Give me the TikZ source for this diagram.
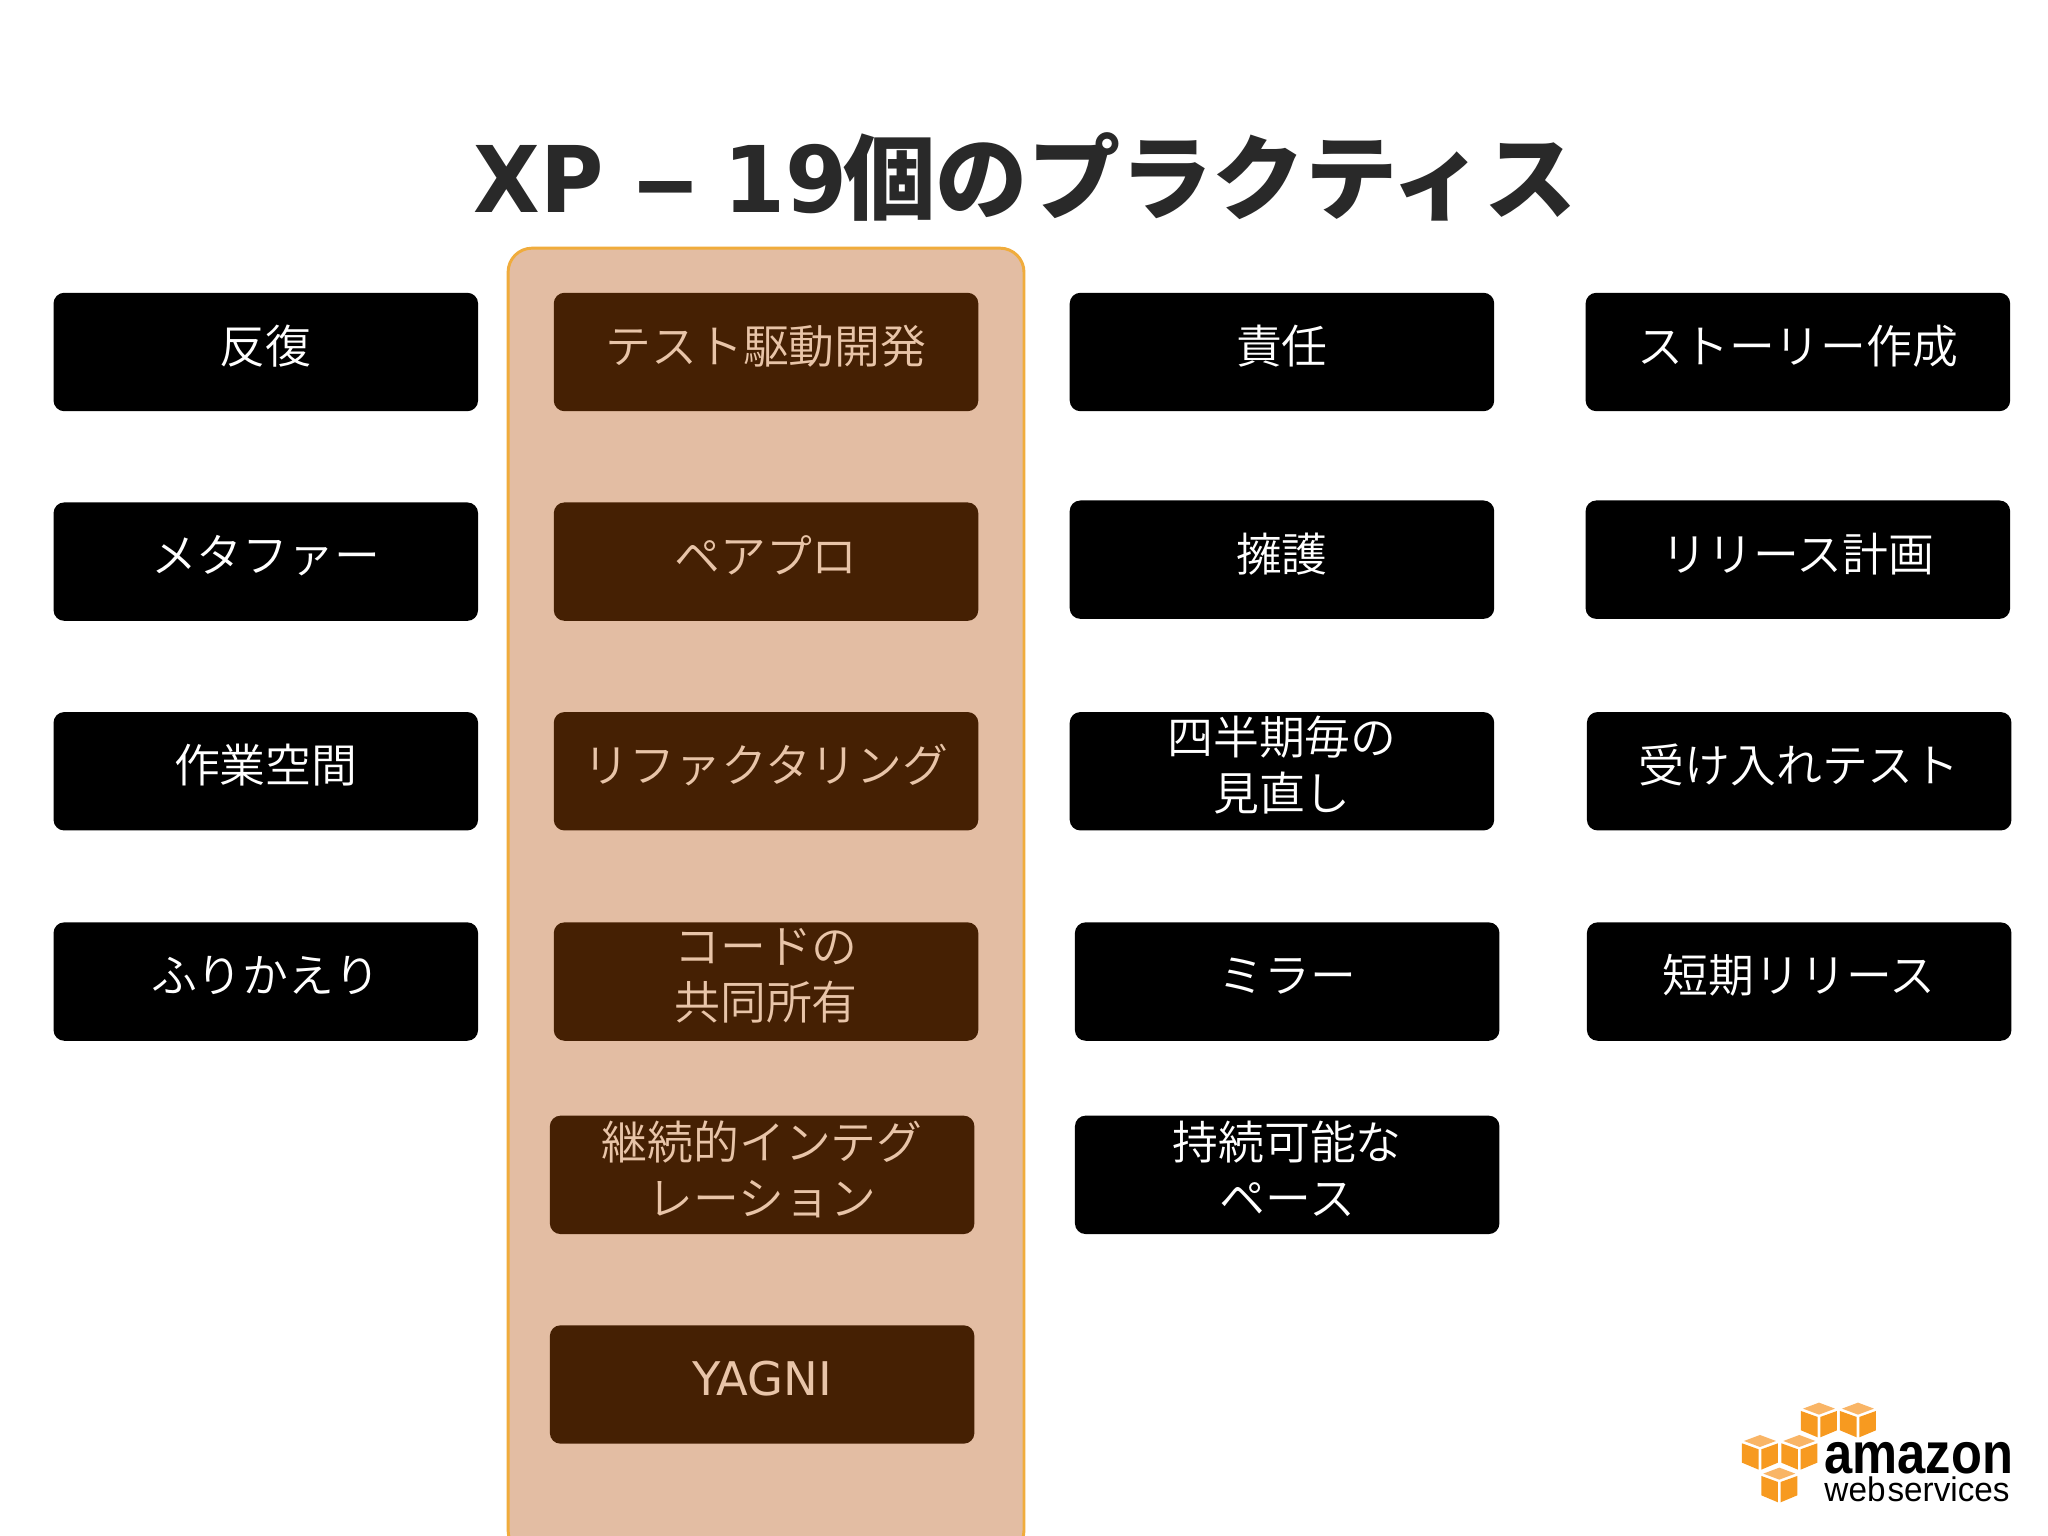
\documentclass[tikz,border=0pt]{standalone}
\usepackage{fontspec}
\setmainfont{Noto Sans CJK JP}
\newfontfamily\cjklight{Noto Sans CJK JP DemiLight}
\newfontfamily\ttl{DejaVu Sans}
\newfontfamily\awsf{Liberation Sans}
\definecolor{brownbox}{HTML}{452003}
\definecolor{panelfill}{HTML}{E3BDA3}
\definecolor{paneledge}{HTML}{F0AC3C}
\definecolor{brownink}{HTML}{E8C4A8}
\definecolor{cubeA}{HTML}{F79A20}
\definecolor{cubeB}{HTML}{F9B566}
\tikzset{
  x=0.4898pt,y=-0.4898pt,
  plate/.style={rounded corners=4pt,minimum width=159.2pt,minimum height=44.4pt,inner sep=0pt,outer sep=0pt},
  blackbox/.style={plate,fill=black},
  brownplate/.style={plate,fill=brownbox},
  wlabel/.style={text=white,font=\cjklight\fontsize{17.2}{21}\selectfont,align=center,inner sep=0pt},
  blabel/.style={text=brownink,font=\cjklight\fontsize{17.2}{21}\selectfont,align=center,inner sep=0pt},
  ttlstyle/.style={text=black!84,inner sep=0pt,anchor=base west},
}
% #1 name, #2 plate style, #3 label style, #4 cx, #5 cy, #6 text
\newcommand{\bx}[6]{%
  \node[#2] (#1) at (#4,#5) {};
  \node[#3] (#1t) at ([yshift=2.2pt]#1.center) {#6};
}
\newcommand{\cube}[2]{%
  \begin{scope}[shift={(#1,#2)},x=0.125pt,y=-0.125pt]
    \fill[cubeB] (-48,19) -- (0,1) -- (48,19) -- (0,37) -- cycle;
    \fill[cubeA] (-54,26) -- (-4,44) -- (-4,105) -- (-54,84) -- cycle;
    \fill[cubeA] (54,26) -- (4,44) -- (4,105) -- (54,84) -- cycle;
  \end{scope}%
}
\begin{document}
\begin{tikzpicture}
\useasboundingbox (0,0) rectangle (1568,1176);
\fill[white] (0,0) rectangle (1568,1176);

\node[ttlstyle] (title) at (362,163) {\ttl\fontsize{34.5}{40}\selectfont\bfseries \scalebox{0.94}[1]{XP}\kern-1pt\ \scalebox{1.45}[1]{–}\kern-3pt\ \scalebox{0.97}[1]{19}\kern-1.5pt\rmfamily\bfseries\fontsize{34.6}{40}\selectfont 個のプラクティス};

\draw[paneledge,fill=panelfill,line width=1.1pt,rounded corners=9pt] (389,190) rectangle (784,1190);

\bx{a1}{blackbox}{wlabel}{203.5}{269.5}{反復}
\bx{a2}{blackbox}{wlabel}{203.5}{430}{メタファー}
\bx{a3}{blackbox}{wlabel}{203.5}{590.5}{作業空間}
\bx{a4}{blackbox}{wlabel}{203.5}{751.5}{ふりかえり}

\bx{b1}{brownplate}{blabel}{586.5}{269.5}{テスト駆動開発}
\bx{b2}{brownplate}{blabel}{586.5}{430}{ペアプロ}
\bx{b3}{brownplate}{blabel}{586.5}{590.5}{リファクタリング}
\bx{b4}{brownplate}{blabel}{586.5}{751.5}{コードの\\共同所有}
\bx{b5}{brownplate}{blabel}{583.5}{899.5}{継続的インテグ\\レーション}
\bx{b6}{brownplate}{blabel,font=\ttl\fontsize{17.4}{21}\selectfont}{583.5}{1060}{YAGNI}

\bx{c1}{blackbox}{wlabel}{981.5}{269.5}{責任}
\bx{c2}{blackbox}{wlabel}{981.5}{428.5}{擁護}
\bx{c3}{blackbox}{wlabel}{981.5}{590.5}{四半期毎の\\見直し}
\bx{c4}{blackbox}{wlabel}{985.5}{751.5}{ミラー}
\bx{c5}{blackbox}{wlabel}{985.5}{899.5}{持続可能な\\ペース}

\bx{d1}{blackbox}{wlabel}{1376.5}{269.5}{ストーリー作成}
\bx{d2}{blackbox}{wlabel}{1376.5}{428.5}{リリース計画}
\bx{d3}{blackbox}{wlabel}{1377.5}{590.5}{受け入れテスト}
\bx{d4}{blackbox}{wlabel}{1377.5}{751.5}{短期リリース}

\begin{scope}[shift={(637.5pt,-517.5pt)},x=0.125pt,y=-0.125pt]
  \cube{357}{67}
  \cube{474}{67}
  \cube{180}{164}
  \cube{298}{164}
  \cube{238}{262}
  \node[inner sep=0pt,anchor=base west,xscale=0.875] (amz) at (372,280) {\awsf\bfseries\fontsize{21.7}{24}\selectfont amazon};
  \node[inner sep=0pt,anchor=base west,xscale=0.975] (wbs) at (372,366) {\awsf\fontsize{12.8}{15}\selectfont web\kern0.8pt services};
\end{scope}
\end{tikzpicture}
\end{document}
